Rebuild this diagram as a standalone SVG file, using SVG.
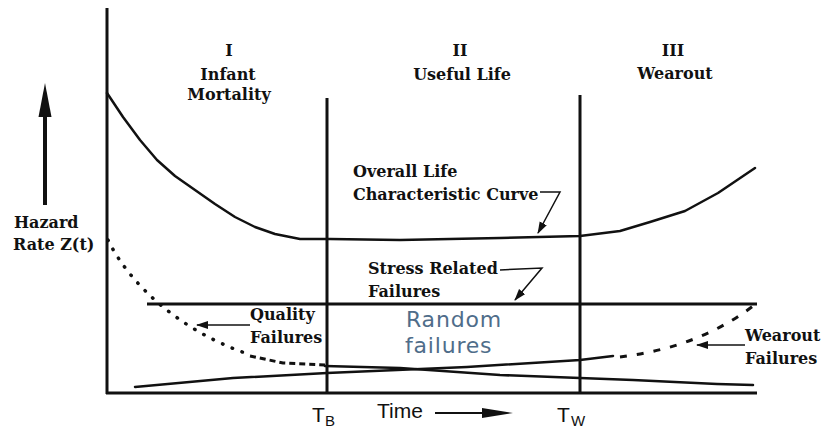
<svg xmlns="http://www.w3.org/2000/svg" width="823" height="430" viewBox="0 0 823 430">
<defs>
<style>
.lbl{font-family:"DejaVu Serif","Liberation Serif",serif;font-weight:bold;font-size:16px;fill:#111}
.mid{text-anchor:middle}
.sans{font-family:"Liberation Sans",Arial,sans-serif;fill:#111}
.rnd{font-family:"DejaVu Sans","Liberation Sans",sans-serif;font-size:22px;letter-spacing:0.8px;fill:#4f6d8a}
.ax{stroke:#111;stroke-width:3;fill:none}
.crv{stroke:#111;stroke-width:2.5;fill:none;stroke-linejoin:round;stroke-linecap:round}
.ldr{stroke:#111;stroke-width:1.5;fill:none}
</style>
<marker id="ah" markerUnits="userSpaceOnUse" markerWidth="12" markerHeight="10" refX="11" refY="4" orient="auto">
<path d="M0,0 L12,4 L0,8 z" fill="#111"/>
</marker>
</defs>
<rect width="823" height="430" fill="#fff"/>

<g id="axes">
<path class="ax" d="M107,8 L107,394 M106,393 L757,393"/>
<path class="ax" d="M327,98 L327,393"/>
<path class="ax" d="M580,95 L580,393"/>
</g>

<g id="hazard-axis-label">
<rect x="43" y="114" width="4" height="91" fill="#111"/>
<path d="M45,83 L38.5,117 L51.5,117 z" fill="#111"/>
<text class="lbl" x="14" y="228">Hazard</text>
<text class="lbl" x="13" y="250">Rate Z(t)</text>
</g>

<g id="phase-1">
<text class="lbl mid" x="229" y="56">I</text>
<text class="lbl mid" x="228" y="80">Infant</text>
<text class="lbl mid" x="229" y="100">Mortality</text>
</g>
<g id="phase-2">
<text class="lbl mid" x="460" y="56">II</text>
<text class="lbl mid" x="462" y="80">Useful Life</text>
</g>
<g id="phase-3">
<text class="lbl mid" x="673" y="56">III</text>
<text class="lbl mid" x="675" y="79">Wearout</text>
</g>

<g id="overall-curve">
<polyline class="crv" points="107,93 115,105 123,117 140,140 157,160 175,176 195,190 215,204 235,217 255,227 275,234 300,239 330,239 400,240 450,239 500,238 580,236 620,231 650,222 685,211 718,193 755,168"/>
</g>

<g id="stress-line">
<path class="ax" d="M147,304 L757,304"/>
</g>

<g id="quality-curve">
<path d="M108,240 C130,285 180,330 245,353" stroke="#111" stroke-width="3.5" fill="none" stroke-dasharray="0.5,10" stroke-linecap="round"/>
<path d="M250,356 L283,363 L325,365" stroke="#111" stroke-width="3" fill="none" stroke-dasharray="6,4"/>
<polyline class="crv" points="325,366 400,368 500,375 580,378 633,380 717,384 753,385"/>
</g>

<g id="wearout-curve">
<polyline class="crv" points="135,387 233,378 327,373 467,367 580,360 613,356"/>
<path d="M620,357 C660,352 710,340 757,303" stroke="#111" stroke-width="3" fill="none" stroke-dasharray="7,10"/>
</g>

<g id="label-overall">
<text class="lbl" x="353" y="177">Overall Life</text>
<text class="lbl" x="353" y="200">Characteristic Curve</text>
</g>
<g id="label-stress">
<text class="lbl" x="368" y="274">Stress Related</text>
<text class="lbl" x="368" y="297">Failures</text>
</g>
<g id="label-quality">
<text class="lbl" x="250" y="320">Quality</text>
<text class="lbl" x="250" y="343">Failures</text>
</g>
<g id="label-wearout">
<text class="lbl" x="745" y="341">Wearout</text>
<text class="lbl" x="745" y="364">Failures</text>
</g>
<g id="label-random">
<text class="rnd" x="406" y="327">Random</text>
<text class="rnd" x="405" y="353">failures</text>
</g>

<g id="time-axis-labels">
<text class="sans" x="377" y="418" font-size="21">Time</text>
<text class="sans" x="312" y="422" font-size="21">T</text>
<text class="sans" x="325" y="426" font-size="15">B</text>
<text class="sans" x="557" y="422" font-size="21">T</text>
<text class="sans" x="571" y="426" font-size="15">W</text>
</g>

<g id="connectors">
<polyline class="ldr" points="540,192 560,192 538,233" marker-end="url(#ah)"/>
<polyline class="ldr" points="500,270 542,268 515,300" marker-end="url(#ah)"/>
<line class="ldr" x1="250" y1="325" x2="197" y2="325" marker-end="url(#ah)"/>
<line class="ldr" x1="745" y1="345" x2="697" y2="345" marker-end="url(#ah)"/>
<line x1="435" y1="413" x2="484" y2="413" stroke="#111" stroke-width="2"/>
<path d="M482,408 L513,413 L482,418 z" fill="#111"/>
</g>
</svg>
